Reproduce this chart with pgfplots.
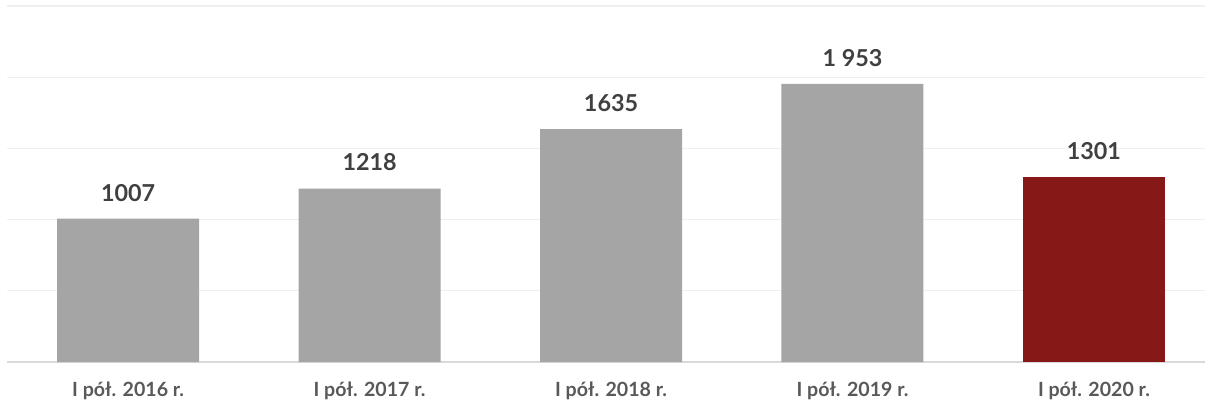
\documentclass[border=0pt]{standalone}
\usepackage{fontspec}
\setmainfont{Lato}
\usepackage{pgfplots}
\pgfplotsset{compat=1.18}
\definecolor{bargray}{HTML}{A5A5A5}
\definecolor{barred}{HTML}{861818}
\definecolor{valtext}{HTML}{404040}
\definecolor{cattext}{HTML}{595959}
\definecolor{gridc}{HTML}{EFEFEF}
\definecolor{basec}{HTML}{D9D9D9}
\begin{document}
\begin{tikzpicture}
\begin{axis}[
  scale only axis,
  width=898.2pt, height=267pt,
  xmin=-0.5, xmax=4.46,
  ymin=0, ymax=2500,
  axis line style={draw=none},
  tick style={draw=none},
  major tick length=0pt,
  ytick={500,1000,1500,2000,2500},
  yticklabels={},
  ymajorgrids,
  major grid style={draw=gridc, line width=1pt},
  extra y ticks={0},
  extra y tick labels={},
  extra y tick style={major grid style={draw=basec, line width=1.2pt}},
  xtick={0,1,2,3,4},
  xticklabels={I pół. 2016 r., I pół. 2017 r., I pół. 2018 r., I pół. 2019 r., I pół. 2020 r.},
  xticklabel style={anchor=center, yshift=-21.75pt, font=\fontsize{14.7}{17}\selectfont\bfseries, text=cattext},
  ybar, bar width=106.5pt, bar shift=0pt,
  point meta=explicit symbolic,
  nodes near coords,
  every node near coord/.append style={anchor=center, yshift=19.5pt, font=\fontsize{17.5}{20}\selectfont\bfseries, text=valtext},
  clip=false,
]
\addplot[fill=bargray, draw=none] coordinates {(0,1007) [1007] (1,1218) [1218] (2,1635) [1635] (3,1953) [1 953]};
\addplot[fill=barred, draw=none] coordinates {(4,1301) [1301]};
\end{axis}
\pgfresetboundingbox
\path[use as bounding box] (-5.55pt,-32.25pt) rectangle (898.2pt,271.5pt);
\end{tikzpicture}
\end{document}
